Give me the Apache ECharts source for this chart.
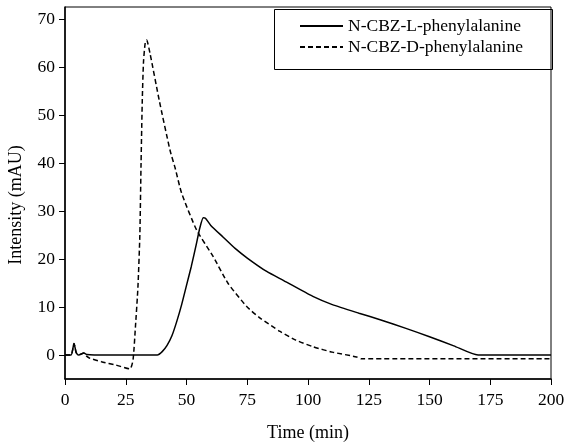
<!DOCTYPE html>
<html><head><meta charset="utf-8">
<script src="https://cdn.jsdelivr.net/npm/echarts@6/dist/echarts.min.js"></script>
<style>html,body{margin:0;padding:0;background:#fff}#c{width:565px;height:442px}</style>
</head><body><div id="c"></div>
<script>
var seriesNames = ['N-CBZ-L-phenylalanine', 'N-CBZ-D-phenylalanine'];
var xTicks = [0, 25, 50, 75, 100, 125, 150, 175, 200];
var yTicks = [0, 10, 20, 30, 40, 50, 60, 70];
var lTime = [0, 2.5, 3.7, 4.6, 5.5, 7.8, 9, 12, 38, 40, 42, 44, 46, 48, 50, 52, 54, 55.5, 56.9, 57.8, 60, 65, 70, 75, 83, 90, 102, 110, 121, 130, 140, 150, 160, 170, 200];
var lValue = [0, 0, 2.4, 0.5, 0, 0.4, 0.1, 0, 0, 0.7, 2, 4, 7, 10.5, 14.5, 18.5, 23, 26.5, 28.6, 28.5, 27, 24.6, 22.2, 20.2, 17.4, 15.5, 12.2, 10.5, 8.7, 7.3, 5.6, 3.8, 1.9, 0, 0];
var dTime = [0, 2.5, 3.7, 4.6, 5.5, 7.8, 9, 10.3, 15, 21, 26.7, 28, 29, 30, 30.8, 31.3, 31.8, 32.3, 33, 33.6, 35, 38.8, 43.2, 45.3, 48, 54.2, 61, 67, 74.8, 80, 88.5, 95, 102.2, 110, 120, 122, 200];
var dValue = [0, 0, 2.4, 0.5, 0, 0.4, -0.3, -0.7, -1.4, -2.1, -2.9, -1, 6, 14, 25, 40, 53, 61, 65, 65.6, 62.8, 53, 42.7, 39, 33.7, 26, 20.5, 15, 10.1, 7.8, 4.9, 3.1, 1.7, 0.6, -0.4, -0.8, -0.8];

function pairs(xs, ys) { return xs.map(function (x, i) { return [x, ys[i]]; }); }
var font = '"Liberation Serif", "Times New Roman", serif';
var chart = echarts.init(document.getElementById('c'));
chart.setOption({
  animation: false,
  backgroundColor: '#fff',
  grid: { left: 65, right: 14, top: 7, bottom: 63, show: true, borderColor: '#000', borderWidth: 1, outerBoundsMode: 'none' },
  xAxis: {
    type: 'value', min: 0, max: 200, interval: 25,
    name: 'Time (min)', nameLocation: 'middle', nameGap: 45,
    nameTextStyle: { fontFamily: font, fontSize: 18, color: '#000' },
    axisLine: { onZero: false, lineStyle: { color: '#000', width: 1.5 } },
    axisTick: { inside: false, length: 6, customValues: xTicks, lineStyle: { color: '#000' } },
    axisLabel: { fontFamily: font, fontSize: 17.5, color: '#000', margin: 12, customValues: xTicks },
    splitLine: { show: false }
  },
  yAxis: {
    type: 'value', min: -5, max: 72.5,
    name: 'Intensity (mAU)', nameLocation: 'middle', nameGap: 40,
    nameTextStyle: { fontFamily: font, fontSize: 18, color: '#000', padding: [0, 24, 0, 0] },
    axisLine: { show: true, onZero: false, lineStyle: { color: '#000', width: 1.5 } },
    axisTick: { show: true, length: 6, customValues: yTicks, lineStyle: { color: '#000' } },
    axisLabel: { fontFamily: font, fontSize: 17.5, color: '#000', margin: 10, customValues: yTicks },
    splitLine: { show: false }
  },
  legend: {
    orient: 'vertical', left: 294, top: 12, itemWidth: 43, itemHeight: 14, itemGap: 3,
    itemStyle: { opacity: 0 },
    textStyle: { fontFamily: font, fontSize: 17.5, color: '#000' },
    data: seriesNames
  },
  graphic: [{ type: 'rect', left: 272, top: 7, shape: { width: 278, height: 60 }, style: { fill: 'none', stroke: '#000', lineWidth: 1 }, z: 10 }],
  series: [
    { name: seriesNames[0], type: 'line', data: pairs(lTime, lValue), symbol: 'none', smooth: 0.2,
      lineStyle: { color: '#000', width: 1.5, type: 'solid' }, itemStyle: { color: '#000' } },
    { name: seriesNames[1], type: 'line', data: pairs(dTime, dValue), symbol: 'none', smooth: 0.2,
      lineStyle: { color: '#000', width: 1.5, type: [5, 3] }, itemStyle: { color: '#000' } }
  ]
});
</script></body></html>
